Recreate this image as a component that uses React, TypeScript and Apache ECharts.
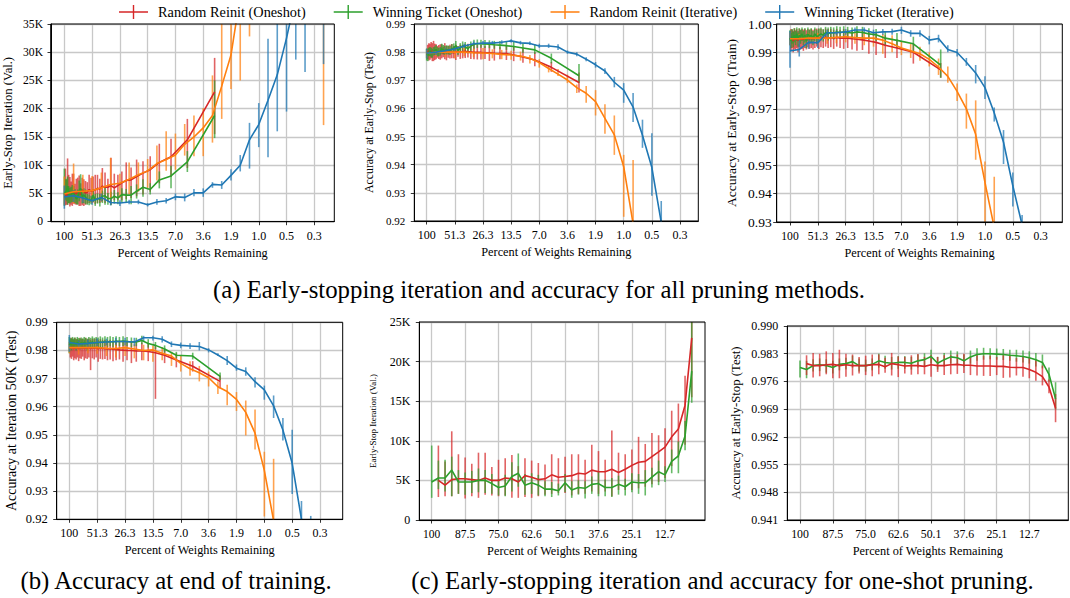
import React, { useEffect, useRef } from 'react';
import * as echarts from 'echarts';

const FONT = "'Liberation Serif', 'Times New Roman', Times, serif";
const RED = '#d62728';
const GREEN = '#2ca02c';
const ORANGE = '#ff7f0e';
const BLUE = '#1f77b4';
const GRID_C = '#c8c8c8';

const NAME_RR_OS = 'Random Reinit (Oneshot)';
const NAME_WT_OS = 'Winning Ticket (Oneshot)';
const NAME_RR_IT = 'Random Reinit (Iterative)';
const NAME_WT_IT = 'Winning Ticket (Iterative)';

// ---------- tick labels ----------
const iterTickPos = [0, 3, 6, 9, 12, 15, 18, 21, 24, 27];
const iterTickLabels = ['100', '51.3', '26.3', '13.5', '7.0', '3.6', '1.9', '1.0', '0.5', '0.3'];
const oneshotTickPct = [100, 87.5, 75.0, 62.6, 50.1, 37.6, 25.1, 12.7];
const yTicksIter35K = [0, 5, 10, 15, 20, 25, 30, 35];
const yTicksIter25K = [0, 5, 10, 15, 20, 25];
const yTicksAcc92 = [0.92, 0.93, 0.94, 0.95, 0.96, 0.97, 0.98, 0.99];
const yTicksAcc93 = [0.93, 0.94, 0.95, 0.96, 0.97, 0.98, 0.99, 1.0];
const yTicksAcc941 = [0.941, 0.948, 0.955, 0.962, 0.969, 0.976, 0.983, 0.99];

// ---------- one-shot pruning levels (percent of weights remaining) ----------
const oneshotPct = [100, 97.5, 95, 92.5, 90, 87.5, 85, 82.5, 80, 77.5, 75, 72.5, 70, 67.6, 65.1, 62.6, 60.1, 57.6, 55.1, 52.6,
  50.1, 47.6, 45.1, 42.6, 40.1, 37.6, 35.1, 32.6, 30.1, 27.6, 25.1, 22.6, 20.1, 17.6, 15.1, 12.7, 10.2, 7.7, 5.2, 2.7];

// ---------- Early-stop iteration (validation), thousands ----------
const esRed = [null, 5.0, 4.4, 5.1, 5.2, 5.2, 5.1, 5.0, 5.3, 5.0, 5.0, 5.3, 5.2, 4.8, 5.6, 5.4, 5.1, 5.2, 5.7, 5.4,
  5.5, 5.6, 5.9, 5.8, 6.3, 6.1, 6.1, 6.4, 6.0, 6.4, 6.9, 7.3, 7.4, 8.0, 8.6, 9.2, 10.5, 11.5, 14.5, 23.0];
const esRedLo = [null, 2.9, 3.0, 3.0, 3.3, 2.7, 3.0, 2.8, 3.2, 3.1, 3.0, 3.1, 2.8, 2.8, 2.9, 2.8, 3.0, 3.2, 3.3, 3.4,
  3.4, 3.1, 3.3, 3.3, 3.6, 3.3, 3.6, 3.0, 3.8, 3.8, 3.8, 4.0, 4.2, 4.5, 4.8, 5.3, 6.8, 7.9, 9.5, 15.5];
const esRedHi = [null, 9.4, 7.4, 11.2, 8.3, 7.9, 7.1, 8.5, 8.5, 6.7, 7.6, 7.8, 8.2, 6.8, 7.8, 7.5, 7.2, 7.0, 8.3, 7.8,
  8.0, 8.3, 8.3, 7.6, 9.5, 8.7, 7.6, 11.3, 8.5, 8.3, 8.9, 10.5, 9.6, 11.0, 10.7, 11.6, 13.8, 14.7, 18.2, 29.0];
const esGreen = [4.8, 5.3, 5.3, 6.3, 4.8, 4.8, 4.8, 5.0, 5.0, 4.6, 4.1, 4.3, 5.5, 5.9, 4.4, 4.7, 4.4, 3.9, 3.9, 3.7,
  4.7, 3.8, 4.1, 4.0, 4.5, 4.6, 4.1, 4.1, 4.5, 4.2, 4.8, 4.7, 4.7, 5.4, 6.1, 5.7, 7.4, 8.1, 10.6, 18.8];
const esGreenLo = [2.8, 3.9, 3.6, 3.0, 3.3, 3.2, 3.4, 3.5, 3.4, 3.3, 3.1, 3.0, 3.6, 4.2, 3.2, 3.3, 3.1, 3.0, 2.9, 3.1,
  3.5, 2.8, 3.2, 2.7, 3.3, 3.0, 3.0, 2.9, 3.2, 3.1, 3.5, 3.3, 3.1, 4.1, 4.4, 4.8, 5.9, 5.9, 8.8, 14.8];
const esGreenHi = [9.4, 7.5, 7.6, 8.0, 6.3, 6.0, 6.2, 6.5, 6.3, 5.8, 5.2, 5.7, 7.3, 8.4, 5.8, 5.9, 5.7, 4.9, 4.8, 4.6,
  5.8, 4.9, 5.0, 4.9, 5.5, 6.2, 5.1, 5.3, 5.6, 5.2, 5.9, 5.8, 6.3, 6.6, 7.5, 6.8, 8.9, 9.9, 12.5, 25.0];
const esOrange = [4.9, 5.3, 5.4, 5.5, 6.0, 6.6, 6.8, 7.5, 8.3, 9.0, 10.3, 11.0, 11.8, 13.7, 15.0, 16.6, 18.8, 24.0, 29.5, 40.0,
  42.0, null, null, null, null, null, null, null, 40.0];
const esOrangeLo = [3.0, 3.2, 3.5, 3.3, 3.5, 4.0, 4.2, 4.8, 5.3, 6.0, 7.3, 9.0, 9.2, 11.7, 11.6, 11.6, 14.0, 18.2, 23.5, 25.0,
  32.8, null, null, null, null, null, null, null, 17.1];
const esOrangeHi = [8.0, 10.3, 8.3, 8.1, 8.7, 11.3, 8.5, 10.5, 10.5, 11.1, 13.5, 16.0, 15.6, 17.3, 18.8, 20.1, 25.9, 50, 50, 50,
  50, null, null, null, null, null, null, null, 60];
const esBlue = [4.4, 4.6, 4.2, 3.7, 4.3, 3.4, 3.3, 3.5, 3.5, 3.0, 3.5, 3.7, 4.4, 4.3, 5.1, 5.1, 6.6, 6.5, 8.2, 10.0,
  14.5, 17.2, 21.5, 26.0, 32.5, 40.0, null, null, null];
const esBlueLo = [2.3, 3.5, 3.4, 3.0, 3.6, 2.9, 2.8, 3.1, 3.1, 2.7, 3.0, 3.2, 3.8, 3.6, 4.5, 4.4, 6.0, 5.8, 7.3, 8.9,
  9.4, 13.2, 11.4, 16.0, 19.5, 28.7, 26.5, null, 27.9];
const esBlueHi = [6.4, 5.6, 5.0, 4.6, 5.0, 3.9, 3.8, 3.9, 3.9, 3.3, 4.0, 4.2, 5.0, 5.0, 5.8, 5.9, 7.0, 7.2, 9.3, 11.8,
  17.5, 21.0, 32.4, 50, 50, 50, 50, null, 50];

// ---------- Accuracy at early stop (test) ----------
const accRed = [null, 0.9805, 0.9800, 0.9800, 0.9802, 0.9803, 0.9800, 0.9802, 0.9800, 0.9800, 0.9800, 0.9802, 0.9803, 0.9797,
  0.9805, 0.9802, 0.9799, 0.9800, 0.9800, 0.9798, 0.9802, 0.9800, 0.9800, 0.9802, 0.9803, 0.9801, 0.9801, 0.9799, 0.9799,
  0.9799, 0.9798, 0.9798, 0.9796, 0.9795, 0.9795, 0.9790, 0.9783, 0.9772, 0.9746, 0.9692];
const accRedLo = [null, 0.9776, 0.9770, 0.9773, 0.9778, 0.9768, 0.9768, 0.9772, 0.9775, 0.9780, 0.9776, 0.9773, 0.9778, 0.9782,
  0.9775, 0.9771, 0.9780, 0.9777, 0.9778, 0.9778, 0.9772, 0.9784, 0.9776, 0.9778, 0.9779, 0.9781, 0.9776, 0.9775, 0.9774,
  0.9774, 0.9776, 0.9769, 0.9770, 0.9775, 0.9772, 0.9768, 0.9762, 0.9750, 0.9730, 0.9657];
const accRedHi = [null, 0.9826, 0.9832, 0.9830, 0.9836, 0.9832, 0.9840, 0.9830, 0.9828, 0.9822, 0.9825, 0.9828, 0.9828, 0.9820,
  0.9832, 0.9823, 0.9822, 0.9826, 0.9829, 0.9822, 0.9826, 0.9822, 0.9826, 0.9826, 0.9828, 0.9830, 0.9822, 0.9826, 0.9825,
  0.9825, 0.9822, 0.9826, 0.9825, 0.9819, 0.9822, 0.9820, 0.9813, 0.9800, 0.9765, 0.9728];
const accGreen = [0.9795, 0.9790, 0.9800, 0.9802, 0.9800, 0.9795, 0.9803, 0.9805, 0.9810, 0.9800, 0.9800, 0.9803, 0.9812,
  0.9808, 0.9806, 0.9808, 0.9808, 0.9806, 0.9812, 0.9815, 0.9823, 0.9806, 0.9815, 0.9822, 0.9820, 0.9812, 0.9822, 0.9828,
  0.9830, 0.9830, 0.9829, 0.9828, 0.9826, 0.9825, 0.9823, 0.9820, 0.9815, 0.9808, 0.9778, 0.9716];
const accGreenLo = [0.9770, 0.9768, 0.9785, 0.9786, 0.9782, 0.9780, 0.9788, 0.9790, 0.9795, 0.9785, 0.9785, 0.9788, 0.9795,
  0.9792, 0.9790, 0.9792, 0.9792, 0.9790, 0.9795, 0.9798, 0.9805, 0.9790, 0.9798, 0.9805, 0.9803, 0.9796, 0.9805, 0.9812,
  0.9815, 0.9816, 0.9815, 0.9814, 0.9812, 0.9810, 0.9808, 0.9805, 0.9798, 0.9793, 0.9760, 0.9690];
const accGreenHi = [0.9813, 0.9812, 0.9816, 0.9818, 0.9816, 0.9812, 0.9818, 0.9820, 0.9825, 0.9818, 0.9815, 0.9818, 0.9830,
  0.9825, 0.9822, 0.9824, 0.9824, 0.9822, 0.9828, 0.9831, 0.9840, 0.9822, 0.9832, 0.9838, 0.9836, 0.9828, 0.9838, 0.9844,
  0.9845, 0.9844, 0.9843, 0.9842, 0.9840, 0.9840, 0.9838, 0.9836, 0.9832, 0.9828, 0.9795, 0.9758];
const accOrange = [0.9795, 0.9800, 0.9800, 0.9800, 0.9800, 0.9798, 0.9797, 0.9795, 0.9792, 0.9790, 0.9786, 0.9778, 0.9763,
  0.9742, 0.9722, 0.9701, 0.9674, 0.9654, 0.9624, 0.9565, 0.9506, 0.9393, 0.9190];
const accOrangeLo = [0.9780, 0.9785, 0.9783, 0.9778, 0.9785, 0.9782, 0.9775, 0.9778, 0.9775, 0.9773, 0.9770, 0.9760, 0.9745,
  0.9728, 0.9715, 0.9690, 0.9655, 0.9620, 0.9575, 0.9510, 0.9435, 0.9215, 0.9190];
const accOrangeHi = [0.9810, 0.9812, 0.9815, 0.9818, 0.9815, 0.9812, 0.9815, 0.9810, 0.9808, 0.9805, 0.9802, 0.9790, 0.9775,
  0.9752, 0.9740, 0.9720, 0.9685, 0.9680, 0.9665, 0.9615, 0.9575, 0.9435, 0.9417];
const accBlue = [0.9796, 0.9800, 0.9805, 0.9812, 0.9822, 0.9830, 0.9832, 0.9832, 0.9835, 0.9840, 0.9833, 0.9831, 0.9822,
  0.9822, 0.9818, 0.9800, 0.9793, 0.9775, 0.9755, 0.9733, 0.9693, 0.9665, 0.9605, 0.9505, 0.9390, 0.9195];
const accBlueLo = [0.9778, 0.9790, 0.9795, 0.9803, 0.9815, 0.9825, 0.9826, 0.9825, 0.9828, 0.9834, 0.9827, 0.9825, 0.9815,
  0.9815, 0.9808, 0.9794, 0.9785, 0.9768, 0.9745, 0.9722, 0.9675, 0.9620, 0.9552, 0.9460, 0.9290, 0.9190];
const accBlueHi = [0.9812, 0.9810, 0.9815, 0.9822, 0.9830, 0.9838, 0.9840, 0.9840, 0.9842, 0.9846, 0.9840, 0.9838, 0.9830,
  0.9830, 0.9828, 0.9806, 0.9800, 0.9782, 0.9765, 0.9743, 0.9712, 0.9690, 0.9655, 0.9560, 0.9512, 0.9271];

// ---------- Accuracy at early stop (train) ----------
const trRed = [null, 0.9945, 0.9948, 0.9940, 0.9950, 0.9945, 0.9948, 0.9942, 0.9950, 0.9945, 0.9948, 0.9945, 0.9950, 0.9946,
  0.9950, 0.9948, 0.9950, 0.9948, 0.9950, 0.9952, 0.9950, 0.9952, 0.9950, 0.9953, 0.9950, 0.9952, 0.9950, 0.9952, 0.9950,
  0.9950, 0.9950, 0.9948, 0.9946, 0.9944, 0.9940, 0.9935, 0.9925, 0.9915, 0.9900, 0.9838];
const trRedLo = [null, 0.9905, 0.9915, 0.9900, 0.9912, 0.9908, 0.9915, 0.9900, 0.9918, 0.9910, 0.9912, 0.9905, 0.9915, 0.9910,
  0.9918, 0.9912, 0.9915, 0.9910, 0.9915, 0.9920, 0.9912, 0.9918, 0.9915, 0.9920, 0.9915, 0.9918, 0.9912, 0.9920, 0.9915,
  0.9912, 0.9915, 0.9910, 0.9905, 0.9908, 0.9895, 0.9890, 0.9880, 0.9880, 0.9860, 0.9810];
const trRedHi = [null, 0.9982, 0.9980, 0.9975, 0.9985, 0.9978, 0.9982, 0.9975, 0.9984, 0.9978, 0.9982, 0.9980, 0.9983, 0.9978,
  0.9982, 0.9980, 0.9983, 0.9980, 0.9982, 0.9984, 0.9982, 0.9983, 0.9980, 0.9984, 0.9982, 0.9983, 0.9980, 0.9983, 0.9980,
  0.9982, 0.9980, 0.9978, 0.9978, 0.9975, 0.9972, 0.9970, 0.9960, 0.9945, 0.9930, 0.9862];
const trGreen = [0.9950, 0.9940, 0.9955, 0.9945, 0.9960, 0.9950, 0.9965, 0.9945, 0.9960, 0.9955, 0.9965, 0.9950, 0.9960,
  0.9940, 0.9965, 0.9955, 0.9960, 0.9950, 0.9965, 0.9955, 0.9960, 0.9965, 0.9960, 0.9970, 0.9965, 0.9970, 0.9968, 0.9972,
  0.9970, 0.9972, 0.9970, 0.9968, 0.9972, 0.9970, 0.9965, 0.9962, 0.9950, 0.9942, 0.9930, 0.9855];
const trGreenLo = [0.9925, 0.9915, 0.9930, 0.9918, 0.9935, 0.9925, 0.9940, 0.9920, 0.9935, 0.9930, 0.9940, 0.9925, 0.9935,
  0.9915, 0.9940, 0.9930, 0.9935, 0.9925, 0.9940, 0.9930, 0.9935, 0.9942, 0.9938, 0.9948, 0.9942, 0.9948, 0.9945, 0.9950,
  0.9950, 0.9952, 0.9950, 0.9948, 0.9952, 0.9950, 0.9945, 0.9940, 0.9925, 0.9915, 0.9905, 0.9810];
const trGreenHi = [0.9978, 0.9968, 0.9982, 0.9972, 0.9985, 0.9975, 0.9988, 0.9970, 0.9985, 0.9980, 0.9988, 0.9975, 0.9985,
  0.9965, 0.9988, 0.9980, 0.9985, 0.9975, 0.9988, 0.9980, 0.9985, 0.9988, 0.9982, 0.9990, 0.9988, 0.9990, 0.9988, 0.9992,
  0.9990, 0.9992, 0.9990, 0.9988, 0.9992, 0.9990, 0.9985, 0.9982, 0.9975, 0.9968, 0.9955, 0.9910];
const trOrange = [0.9948, 0.9948, 0.9950, 0.9950, 0.9950, 0.9953, 0.9955, 0.9952, 0.9950, 0.9950, 0.9943, 0.9930, 0.9915,
  0.9905, 0.9895, 0.9875, 0.9848, 0.9815, 0.9762, 0.9700, 0.9610, 0.9440, 0.9280];
const trOrangeLo = [0.9925, 0.9930, 0.9928, 0.9925, 0.9930, 0.9932, 0.9935, 0.9930, 0.9925, 0.9920, 0.9895, 0.9900, 0.9890,
  0.9880, 0.9870, 0.9850, 0.9820, 0.9792, 0.9728, 0.9630, 0.9520, 0.9300, 0.9200];
const trOrangeHi = [0.9970, 0.9965, 0.9968, 0.9968, 0.9970, 0.9972, 0.9975, 0.9972, 0.9972, 0.9970, 0.9965, 0.9960, 0.9940,
  0.9930, 0.9920, 0.9900, 0.9878, 0.9850, 0.9790, 0.9754, 0.9730, 0.9514, 0.9460];
const trBlue = [0.9905, 0.9910, 0.9935, 0.9934, 0.9969, 0.9969, 0.9972, 0.9979, 0.9979, 0.9969, 0.9972, 0.9973, 0.9979,
  0.9967, 0.9967, 0.9943, 0.9949, 0.9910, 0.9899, 0.9865, 0.9827, 0.9775, 0.9685, 0.9582, 0.9428, 0.9290];
const trBlueLo = [0.9845, 0.9885, 0.9912, 0.9915, 0.9955, 0.9960, 0.9962, 0.9968, 0.9968, 0.9958, 0.9962, 0.9962, 0.9965,
  0.9955, 0.9955, 0.9928, 0.9935, 0.9900, 0.9885, 0.9852, 0.9790, 0.9735, 0.9655, 0.9505, 0.9355, 0.9280];
const trBlueHi = [0.9975, 0.9945, 0.9955, 0.9955, 0.9980, 0.9978, 0.9982, 0.9988, 0.9988, 0.9980, 0.9982, 0.9983, 0.9990,
  0.9978, 0.9978, 0.9958, 0.9962, 0.9925, 0.9912, 0.9880, 0.9855, 0.9815, 0.9705, 0.9625, 0.9475, 0.9325];

// ---------- Accuracy at iteration 50K (test) ----------
const endRed = [null, 0.9810, 0.9808, 0.9812, 0.9806, 0.9810, 0.9808, 0.9811, 0.9806, 0.9810, 0.9808, 0.9812, 0.9807, 0.9810,
  0.9808, 0.9811, 0.9806, 0.9810, 0.9808, 0.9810, 0.9806, 0.9808, 0.9807, 0.9806, 0.9805, 0.9806, 0.9804, 0.9803, 0.9802,
  0.9801, 0.9800, 0.9800, 0.9798, 0.9798, 0.9796, 0.9792, 0.9783, 0.9766, 0.9744, 0.9690];
const endRedLo = [null, 0.9775, 0.9770, 0.9778, 0.9765, 0.9772, 0.9768, 0.9775, 0.9762, 0.9772, 0.9770, 0.9778, 0.9765, 0.9772,
  0.9770, 0.9775, 0.9730, 0.9772, 0.9768, 0.9775, 0.9760, 0.9770, 0.9768, 0.9770, 0.9765, 0.9768, 0.9762, 0.9765, 0.9768,
  0.9760, 0.9765, 0.9755, 0.9760, 0.9765, 0.9762, 0.9628, 0.9755, 0.9740, 0.9725, 0.9665];
const endRedHi = [null, 0.9840, 0.9845, 0.9842, 0.9838, 0.9845, 0.9840, 0.9842, 0.9838, 0.9845, 0.9840, 0.9842, 0.9838, 0.9845,
  0.9840, 0.9842, 0.9838, 0.9842, 0.9840, 0.9842, 0.9838, 0.9840, 0.9838, 0.9838, 0.9836, 0.9838, 0.9835, 0.9835, 0.9835,
  0.9832, 0.9830, 0.9832, 0.9828, 0.9828, 0.9825, 0.9815, 0.9805, 0.9790, 0.9762, 0.9710];
const endGreen = [0.9820, 0.9825, 0.9822, 0.9828, 0.9824, 0.9826, 0.9822, 0.9828, 0.9825, 0.9823, 0.9827, 0.9824, 0.9828,
  0.9826, 0.9823, 0.9828, 0.9825, 0.9830, 0.9826, 0.9828, 0.9827, 0.9830, 0.9828, 0.9832, 0.9830, 0.9832, 0.9830, 0.9833,
  0.9832, 0.9833, 0.9832, 0.9830, 0.9830, 0.9835, 0.9825, 0.9818, 0.9805, 0.9783, 0.9780, 0.9708];
const endGreenLo = [0.9790, 0.9805, 0.9800, 0.9808, 0.9805, 0.9806, 0.9800, 0.9810, 0.9806, 0.9803, 0.9808, 0.9805, 0.9810,
  0.9806, 0.9800, 0.9810, 0.9806, 0.9812, 0.9806, 0.9810, 0.9808, 0.9812, 0.9810, 0.9815, 0.9812, 0.9815, 0.9812, 0.9816,
  0.9815, 0.9816, 0.9815, 0.9812, 0.9815, 0.9822, 0.9810, 0.9805, 0.9792, 0.9772, 0.9768, 0.9695];
const endGreenHi = [0.9848, 0.9845, 0.9842, 0.9848, 0.9842, 0.9846, 0.9840, 0.9848, 0.9844, 0.9842, 0.9846, 0.9842, 0.9848,
  0.9845, 0.9842, 0.9848, 0.9845, 0.9850, 0.9845, 0.9848, 0.9846, 0.9850, 0.9846, 0.9850, 0.9848, 0.9850, 0.9848, 0.9850,
  0.9848, 0.9850, 0.9848, 0.9846, 0.9845, 0.9852, 0.9840, 0.9830, 0.9818, 0.9795, 0.9792, 0.9722];
const endOrange = [0.9810, 0.9810, 0.9810, 0.9810, 0.9808, 0.9807, 0.9810, 0.9805, 0.9800, 0.9802, 0.9790, 0.9780, 0.9754,
  0.9735, 0.9721, 0.9703, 0.9671, 0.9654, 0.9626, 0.9580, 0.9506, 0.9374, 0.9195];
const endOrangeLo = [0.9790, 0.9785, 0.9790, 0.9788, 0.9780, 0.9775, 0.9780, 0.9772, 0.9765, 0.9760, 0.9765, 0.9745, 0.9725,
  0.9710, 0.9690, 0.9672, 0.9645, 0.9605, 0.9585, 0.9498, 0.9448, 0.9210, 0.9150];
const endOrangeHi = [0.9830, 0.9828, 0.9830, 0.9832, 0.9828, 0.9825, 0.9828, 0.9822, 0.9820, 0.9818, 0.9812, 0.9795, 0.9782,
  0.9762, 0.9745, 0.9725, 0.9690, 0.9678, 0.9652, 0.9622, 0.9590, 0.9440, 0.9415];
const endBlue = [0.9828, 0.9823, 0.9825, 0.9828, 0.9830, 0.9832, 0.9832, 0.9830, 0.9845, 0.9845, 0.9840, 0.9823, 0.9818,
  0.9816, 0.9814, 0.9802, 0.9784, 0.9764, 0.9737, 0.9725, 0.9689, 0.9660, 0.9603, 0.9517, 0.9399, 0.9200, null];
const endBlueLo = [0.9795, 0.9810, 0.9812, 0.9815, 0.9818, 0.9820, 0.9818, 0.9815, 0.9832, 0.9835, 0.9828, 0.9812, 0.9808,
  0.9805, 0.9800, 0.9793, 0.9780, 0.9748, 0.9728, 0.9710, 0.9668, 0.9625, 0.9560, 0.9480, 0.9290, 0.9190, 0.9050];
const endBlueHi = [0.9855, 0.9835, 0.9838, 0.9842, 0.9842, 0.9845, 0.9845, 0.9845, 0.9852, 0.9852, 0.9850, 0.9832, 0.9828,
  0.9826, 0.9830, 0.9808, 0.9790, 0.9780, 0.9750, 0.9740, 0.9705, 0.9675, 0.9640, 0.9560, 0.9518, 0.9265, 0.9212];

// ---------- layout ----------
type Arr = (number | null)[];
type S = [string, string, Arr, Arr, Arr];
type Panel = {
  box: [number, number, number, number];
  kind: 'iter' | 'oneshot';
  xr: [number, number];
  yr: [number, number];
  yTicks: number[];
  yFmt: (v: number) => string;
  yName: string;
  fx: number; fy: number; fyn: number; yMargin: number; yNameGap: number;
  series: S[];
};

const kFmt = (v: number) => (v === 0 ? '0' : `${Math.round(v)}K`);
const f2 = (v: number) => v.toFixed(2);
const f3 = (v: number) => v.toFixed(3);

const PANELS: Panel[] = [
  {
    box: [50.7, 24, 283.6, 197.7], kind: 'iter', xr: [-1.44, 29.16], yr: [0, 35], yTicks: yTicksIter35K, yFmt: kFmt,
    yName: 'Early-Stop Iteration (Val.)', fx: 12, fy: 11.6, fyn: 12.6, yMargin: 8, yNameGap: 37,
    series: [
      [NAME_RR_OS, RED, esRed, esRedLo, esRedHi],
      [NAME_WT_OS, GREEN, esGreen, esGreenLo, esGreenHi],
      [NAME_RR_IT, ORANGE, esOrange, esOrangeLo, esOrangeHi],
      [NAME_WT_IT, BLUE, esBlue, esBlueLo, esBlueHi],
    ],
  },
  {
    box: [414.3, 24, 284, 197], kind: 'iter', xr: [-1.32, 28.95], yr: [0.92, 0.99], yTicks: yTicksAcc92, yFmt: f2,
    yName: 'Accuracy at Early-Stop (Test)', fx: 12, fy: 11, fyn: 11.8, yMargin: 9, yNameGap: 39,
    series: [
      [NAME_RR_OS, RED, accRed, accRedLo, accRedHi],
      [NAME_WT_OS, GREEN, accGreen, accGreenLo, accGreenHi],
      [NAME_RR_IT, ORANGE, accOrange, accOrangeLo, accOrangeHi],
      [NAME_WT_IT, BLUE, accBlue, accBlueLo, accBlueHi],
    ],
  },
  {
    box: [776.7, 24, 285.6, 198], kind: 'iter', xr: [-1.43, 29.33], yr: [0.93, 1.0], yTicks: yTicksAcc93, yFmt: f2,
    yName: 'Accuracy at Early-Stop (Train)', fx: 11.6, fy: 13.5, fyn: 13.5, yMargin: 5, yNameGap: 38,
    series: [
      [NAME_RR_OS, RED, trRed, trRedLo, trRedHi],
      [NAME_WT_OS, GREEN, trGreen, trGreenLo, trGreenHi],
      [NAME_RR_IT, ORANGE, trOrange, trOrangeLo, trOrangeHi],
      [NAME_WT_IT, BLUE, trBlue, trBlueLo, trBlueHi],
    ],
  },
  {
    box: [56.7, 322.3, 286, 197], kind: 'iter', xr: [-1.36, 29.44], yr: [0.92, 0.99], yTicks: yTicksAcc92, yFmt: f2,
    yName: 'Accuracy at Iteration 50K (Test)', fx: 12, fy: 12.5, fyn: 13.9, yMargin: 9, yNameGap: 38.5,
    series: [
      [NAME_RR_OS, RED, endRed, endRedLo, endRedHi],
      [NAME_WT_OS, GREEN, endGreen, endGreenLo, endGreenHi],
      [NAME_RR_IT, ORANGE, endOrange, endOrangeLo, endOrangeHi],
      [NAME_WT_IT, BLUE, endBlue, endBlueLo, endBlueHi],
    ],
  },
  {
    box: [419.3, 322, 285.7, 198], kind: 'oneshot', xr: [-2.26, 104.64], yr: [0, 25], yTicks: yTicksIter25K, yFmt: kFmt,
    yName: 'Early-Stop Iteration (Val.)', fx: 11.5, fy: 12, fyn: 9, yMargin: 9, yNameGap: 42,
    series: [
      [NAME_RR_OS, RED, esRed, esRedLo, esRedHi],
      [NAME_WT_OS, GREEN, esGreen, esGreenLo, esGreenHi],
    ],
  },
  {
    box: [787.3, 326, 281, 194], kind: 'oneshot', xr: [-2.15, 104.83], yr: [0.941, 0.99], yTicks: yTicksAcc941, yFmt: f3,
    yName: 'Accuracy at Early-Stop (Test)', fx: 11.8, fy: 12, fyn: 12.8, yMargin: 9, yNameGap: 44.5,
    series: [
      [NAME_WT_OS, GREEN, accGreen, accGreenLo, accGreenHi],
      [NAME_RR_OS, RED, accRed, accRedLo, accRedHi],
    ],
  },
];

// iteration axis: place a percentage at its pruning-round position (rate taken from the 51.3% tick at round 3)
const ITER_RATE = Math.pow(parseFloat(iterTickLabels[1]) / 100, 1 / iterTickPos[1]);
const pctToRound = (p: number) => Math.log(p / 100) / Math.log(ITER_RATE);

function buildOption() {
  const grid: any[] = [];
  const xAxis: any[] = [];
  const yAxis: any[] = [];
  const series: any[] = [];
  const graphic: any[] = [];

  PANELS.forEach((p, g) => {
    const [left, top, width, height] = p.box;
    grid.push({ left, top, width, height, containLabel: false });
    graphic.push({
      type: 'rect', shape: { x: left, y: top, width, height }, z: 50, silent: true,
      style: { fill: 'none', stroke: '#000', lineWidth: 1 },
    });
    const isIter = p.kind === 'iter';
    xAxis.push({
      type: 'value', gridIndex: g, min: p.xr[0], max: p.xr[1], inverse: !isIter,
      axisLine: { show: true, onZero: false, lineStyle: { color: '#000', width: 1 } },
      axisTick: { show: true, length: 3.5, customValues: isIter ? iterTickPos : oneshotTickPct, lineStyle: { color: '#000', width: 0.8 } },
      axisLabel: {
        customValues: isIter ? iterTickPos : oneshotTickPct,
        formatter: isIter
          ? (v: number) => iterTickLabels[iterTickPos.indexOf(Math.round(v))] ?? ''
          : (v: number) => (v === 100 ? '100' : v.toFixed(1)),
        fontFamily: FONT, fontSize: p.fx, color: '#000', margin: 8,
      },
      splitLine: { show: true, lineStyle: { color: GRID_C, width: 1.3 } },
      name: 'Percent of Weights Remaining', nameLocation: 'middle', nameGap: 25,
      nameTextStyle: { fontFamily: FONT, fontSize: 12.3, color: '#000' },
    });
    yAxis.push({
      type: 'value', gridIndex: g, min: p.yr[0], max: p.yr[1],
      axisLine: { show: true, onZero: false, lineStyle: { color: '#000', width: 1 } },
      axisTick: { show: true, length: 3.5, customValues: p.yTicks, lineStyle: { color: '#000', width: 0.8 } },
      axisLabel: { customValues: p.yTicks, formatter: p.yFmt, fontFamily: FONT, fontSize: p.fy, color: '#000', margin: p.yMargin },
      splitLine: { show: true, lineStyle: { color: GRID_C, width: 1.3 } },
      name: p.yName, nameLocation: 'middle', nameGap: p.yNameGap, nameRotate: 90,
      nameTextStyle: { fontFamily: FONT, fontSize: p.fyn, color: '#000' },
    });

    p.series.forEach(([name, color, mean, lo, hi]) => {
      const oneshot = mean.length === oneshotPct.length;
      const xs = oneshot
        ? oneshotPct.map((pc) => (isIter ? pctToRound(pc) : pc))
        : mean.map((_, i) => i);
      const xsBars = oneshot ? xs : lo.map((_, i) => i);
      const lineData: number[][] = [];
      mean.forEach((v, i) => { if (v != null) lineData.push([xs[i], v]); });
      const barData: number[][] = [];
      lo.forEach((v, i) => { if (v != null && hi[i] != null) barData.push([xsBars[i], v, hi[i] as number]); });
      series.push({
        type: 'custom', name: name + ' err', xAxisIndex: g, yAxisIndex: g, data: barData, silent: true,
        encode: { x: 0, y: [1, 2] }, z: 2,
        renderItem: (params: any, api: any) => {
          const x = api.value(0);
          const a = api.coord([x, api.value(1)]);
          const b = api.coord([x, api.value(2)]);
          const cs = params.coordSys;
          const t = cs.y;
          const bt = cs.y + cs.height;
          const y1 = Math.max(t, Math.min(bt, a[1]));
          const y2 = Math.max(t, Math.min(bt, b[1]));
          if (Math.abs(y1 - y2) < 0.01) return { type: 'group', children: [] };
          return {
            type: 'line', shape: { x1: a[0], y1, x2: a[0], y2 },
            style: { stroke: color, lineWidth: 1.6, opacity: 0.72 },
          };
        },
      });
      series.push({
        type: 'line', name, xAxisIndex: g, yAxisIndex: g, data: lineData, showSymbol: false, symbol: 'none',
        lineStyle: { color, width: 1.6 }, itemStyle: { color }, color, z: 3, clip: true, silent: true,
      });
    });
  });

  const capStyle = { fontFamily: FONT, fontSize: 24.8, fill: '#000', align: 'center', verticalAlign: 'middle' };
  graphic.push(
    { type: 'text', x: 539, y: 289, silent: true, style: { ...capStyle, text: '(a) Early-stopping iteration and accuracy for all pruning methods.' } },
    { type: 'text', x: 176, y: 580, silent: true, style: { ...capStyle, text: '(b) Accuracy at end of training.' } },
    { type: 'text', x: 722.5, y: 580, silent: true, style: { ...capStyle, text: '(c) Early-stopping iteration and accuracy for one-shot pruning.' } },
  );

  const icon = 'path://M0,6.3h29v1.4h-29z M13.8,0h1.4v14h-1.4z';
  return {
    animation: false,
    backgroundColor: '#ffffff',
    legend: {
      data: [NAME_RR_OS, NAME_WT_OS, NAME_RR_IT, NAME_WT_IT].map((n) => ({ name: n, icon })),
      top: 0, left: 114, itemWidth: 29, itemHeight: 14, itemGap: 28, selectedMode: false,
      textStyle: { fontFamily: FONT, fontSize: 14.3, lineHeight: 14, color: '#000', padding: [0, 0, 0, 5] },
    },
    grid, xAxis, yAxis, series, graphic,
  };
}

export default function App() {
  const ref = useRef<HTMLDivElement>(null);
  useEffect(() => {
    const chart = echarts.init(ref.current as HTMLDivElement, undefined, { renderer: 'svg' });
    chart.setOption(buildOption() as any);
    return () => chart.dispose();
  }, []);
  return <div ref={ref} style={{ position: 'absolute', left: 0, top: 0, width: 1070, height: 598 }} />;
}
